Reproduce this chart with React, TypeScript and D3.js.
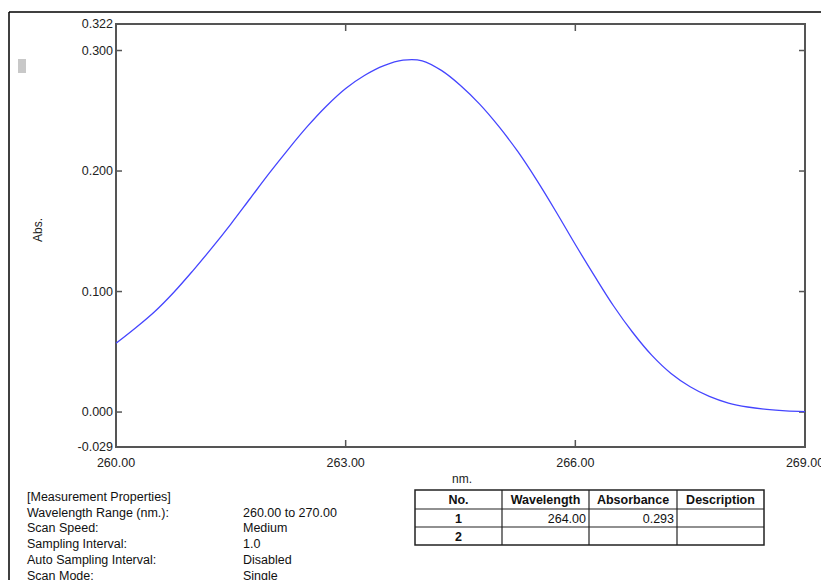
import React, { useEffect, useRef } from 'react';
import * as d3 from 'd3';

// spectrum (nm, Abs.)
const wavelengths = [
  260.0, 260.25, 260.5, 260.75, 261.0, 261.25, 261.5, 261.75, 262.0, 262.25, 262.5, 262.75,
  263.0, 263.25, 263.5, 263.75, 264.0, 264.25, 264.5, 264.75, 265.0, 265.25, 265.5, 265.75,
  266.0, 266.25, 266.5, 266.75, 267.0, 267.25, 267.5, 267.75, 268.0, 268.25, 268.5, 268.75, 269.0,
];
const absorbance = [
  0.057, 0.0695, 0.083, 0.099, 0.117, 0.136, 0.156, 0.177, 0.198, 0.218, 0.237, 0.254,
  0.2685, 0.2795, 0.2875, 0.292, 0.2915, 0.2835, 0.271, 0.2555, 0.237, 0.216, 0.192, 0.166,
  0.139, 0.113, 0.088, 0.066, 0.047, 0.032, 0.021, 0.013, 0.0075, 0.0042, 0.0022, 0.001, 0.0004,
];

const yTicks = [0.322, 0.3, 0.2, 0.1, 0.0, -0.029];
const xTicks = [260, 263, 266, 269];

const propLabels = [
  '[Measurement Properties]',
  'Wavelength Range (nm.):',
  'Scan Speed:',
  'Sampling Interval:',
  'Auto Sampling Interval:',
  'Scan Mode:',
];
const propValues = ['', '260.00 to 270.00', 'Medium', '1.0', 'Disabled', 'Single'];

const tableHeader = ['No.', 'Wavelength', 'Absorbance', 'Description'];
const tableRows = [
  ['1', '264.00', '0.293', ''],
  ['2', '', '', ''],
];

export default function App() {
  const ref = useRef<SVGSVGElement>(null);

  useEffect(() => {
    const svg = d3.select(ref.current);
    svg.selectAll('*').remove();
    const font = '"Liberation Sans", Arial, sans-serif';

    const left = 116, right = 805, top = 24, bottom = 447;

    const x = d3.scaleLinear().domain([260, 269]).range([left, right]);
    const y = d3.scaleLinear().domain([-0.029, 0.322]).range([bottom, top]);

    // outer page frame
    svg.append('line').attr('x1', 9).attr('y1', 12).attr('x2', 821).attr('y2', 12)
      .attr('stroke', '#000').attr('stroke-width', 1.5);
    svg.append('line').attr('x1', 9).attr('y1', 12).attr('x2', 9).attr('y2', 580)
      .attr('stroke', '#000').attr('stroke-width', 1.5);
    svg.append('rect').attr('x', 18).attr('y', 59).attr('width', 8).attr('height', 14)
      .attr('fill', '#c8c8c8');

    // plot box
    svg.append('rect').attr('x', left).attr('y', top)
      .attr('width', right - left).attr('height', bottom - top)
      .attr('fill', 'none').attr('stroke', '#555').attr('stroke-width', 2);

    // inner ticks
    const inner = yTicks.filter(t => t !== 0.322 && t !== -0.029);
    inner.forEach(t => {
      svg.append('line').attr('x1', left).attr('x2', left + 6)
        .attr('y1', y(t)).attr('y2', y(t)).attr('stroke', '#555').attr('stroke-width', 1.5);
      svg.append('line').attr('x1', right - 6).attr('x2', right)
        .attr('y1', y(t)).attr('y2', y(t)).attr('stroke', '#555').attr('stroke-width', 1.5);
    });
    xTicks.slice(1, 3).forEach(t => {
      svg.append('line').attr('x1', x(t)).attr('x2', x(t))
        .attr('y1', bottom - 7).attr('y2', bottom).attr('stroke', '#555').attr('stroke-width', 1.5);
      svg.append('line').attr('x1', x(t)).attr('x2', x(t))
        .attr('y1', top).attr('y2', top + 7).attr('stroke', '#555').attr('stroke-width', 1.5);
    });

    // tick labels
    const fmtY = (d: number) => d3.format('.3f')(d).replace('\u2212', '-');
    svg.selectAll('.ylab').data(yTicks).enter().append('text')
      .attr('x', left - 3).attr('y', d => y(d)).attr('dy', '0.35em')
      .attr('text-anchor', 'end').attr('font-family', font).attr('font-size', 12.5)
      .attr('fill', '#222')
      .text(fmtY);
    svg.selectAll('.xlab').data(xTicks).enter().append('text')
      .attr('x', d => x(d)).attr('y', 467)
      .attr('text-anchor', 'middle').attr('font-family', font).attr('font-size', 12.5)
      .attr('fill', '#222')
      .text(d => d3.format('.2f')(d));

    svg.append('text').attr('x', 462).attr('y', 483).attr('text-anchor', 'middle')
      .attr('font-family', font).attr('font-size', 12).attr('fill', '#222').text('nm.');
    svg.append('text').attr('transform', 'translate(42,230) rotate(-90)')
      .attr('text-anchor', 'middle').attr('font-family', font).attr('font-size', 12)
      .attr('fill', '#222').text('Abs.');

    // spectrum
    const data = wavelengths.map((w, i) => ({ w, a: absorbance[i] }));
    svg.append('path').datum(data)
      .attr('fill', 'none').attr('stroke', '#4545ff').attr('stroke-width', 1.3)
      .attr('d', d3.line<{ w: number; a: number }>()
        .x(d => x(d.w)).y(d => y(d.a)).curve(d3.curveCatmullRom.alpha(0.5)));

    // measurement properties
    propLabels.forEach((lab, i) => {
      svg.append('text').attr('x', 27).attr('y', 501 + i * 15.7)
        .attr('font-family', font).attr('font-size', 12.5).attr('fill', '#111').text(lab);
      svg.append('text').attr('x', 243).attr('y', 501 + i * 15.7)
        .attr('font-family', font).attr('font-size', 12.5).attr('fill', '#111').text(propValues[i]);
    });

    // peak table
    const cols = [415, 502, 589, 677, 764];
    const rows = [490, 509, 527, 545];
    svg.append('rect').attr('x', cols[0]).attr('y', rows[0])
      .attr('width', cols[4] - cols[0]).attr('height', rows[3] - rows[0])
      .attr('fill', 'none').attr('stroke', '#222').attr('stroke-width', 1.5);
    cols.slice(1, 4).forEach(c => {
      svg.append('line').attr('x1', c).attr('x2', c).attr('y1', rows[0]).attr('y2', rows[3])
        .attr('stroke', '#222').attr('stroke-width', 1.2);
    });
    rows.slice(1, 3).forEach(r => {
      svg.append('line').attr('x1', cols[0]).attr('x2', cols[4]).attr('y1', r).attr('y2', r)
        .attr('stroke', '#222').attr('stroke-width', 1.2);
    });
    tableHeader.forEach((h, i) => {
      svg.append('text').attr('x', (cols[i] + cols[i + 1]) / 2).attr('y', rows[0] + 14)
        .attr('text-anchor', 'middle').attr('font-family', font).attr('font-size', 12.5)
        .attr('font-weight', 'bold').attr('fill', '#111').text(h);
    });
    tableRows.forEach((row, r) => {
      row.forEach((cell, i) => {
        if (!cell) return;
        const isNo = i === 0;
        svg.append('text')
          .attr('x', isNo ? (cols[0] + cols[1]) / 2 : cols[i + 1] - 3)
          .attr('y', rows[r + 1] + 13.5)
          .attr('text-anchor', isNo ? 'middle' : 'end')
          .attr('font-family', font).attr('font-size', 12.5)
          .attr('font-weight', isNo ? 'bold' : 'normal').attr('fill', '#111').text(cell);
      });
    });
  }, []);

  return (
    <svg ref={ref} width={821} height={580}
      style={{ position: 'absolute', left: 0, top: 0, background: '#fff' }} />
  );
}
